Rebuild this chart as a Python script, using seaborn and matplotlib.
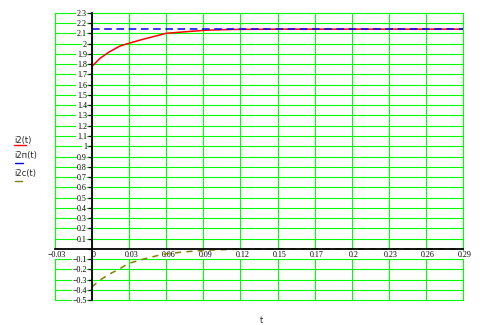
import numpy as np
import pandas as pd
import matplotlib
matplotlib.use("Agg")
import matplotlib.pyplot as plt
from matplotlib.lines import Line2D
import matplotlib.transforms as mtransforms
import seaborn as sns

# ---- data ----
t_i2 = [0.0, 0.0065, 0.014, 0.022, 0.029, 0.040, 0.051, 0.058, 0.074, 0.090, 0.110, 0.150, 0.2903]
i2 = [1.775, 1.856, 1.920, 1.975, 2.002, 2.041, 2.076, 2.099, 2.115, 2.130, 2.137, 2.140, 2.140]

t_i2p = [0.0, 0.2903]
i2p = [2.14, 2.14]

t_i2c = [0.0, 0.0065, 0.014, 0.021, 0.029, 0.040, 0.051, 0.058, 0.074, 0.090, 0.110, 0.150, 0.2903]
i2c = [-0.372, -0.303, -0.244, -0.199, -0.140, -0.101, -0.066, -0.047, -0.027, -0.012, -0.004, 0.0, 0.0]

x_tick_labels = ["\u22120.03", "0", "0.03", "0.06", "0.09", "0.12", "0.15", "0.17", "0.2", "0.23", "0.26", "0.29"]
y_tick_values = [round(-0.5 + 0.1 * k, 1) for k in range(29)]
y_tick_labels = [("" if v == 0 else (("\u2212" if v < 0 else "") + ("%g" % abs(v)))) for v in y_tick_values]

legend_labels = ["i2(t)", "i2\u043f(t)", "i2c(t)"]
x_label = "t"

RED = "#ff0000"
BLUE = "#0000ff"
OLIVE = "#808000"
GREEN = "#00ff00"

sns.set_theme(style="white")
plt.rcParams["font.family"] = ["Liberation Serif", "DejaVu Sans"]

fig = plt.figure(figsize=(4.82, 3.25), dpi=100)
ax = fig.add_axes([55 / 482, 1 - 300.3 / 325, (463 - 55) / 482, (300.3 - 12.7) / 325])

xmin, xmax = -0.0287, 0.2903
ymin, ymax = -0.5, 2.3
xt = np.linspace(xmin, xmax, len(x_tick_labels))

# green grid (drawn below everything)
for x in xt:
    ax.axvline(x, color=GREEN, lw=0.8, zorder=0.3, clip_on=False)
for y in y_tick_values:
    ax.axhline(y, color=GREEN, lw=0.8, zorder=0.3, clip_on=False)

# white strip under the x-axis labels
ax.axhspan(-0.093, 0.0, color="white", zorder=0.6, lw=0)

df1 = pd.DataFrame({"t": t_i2, "v": i2})
df2 = pd.DataFrame({"t": t_i2p, "v": i2p})
df3 = pd.DataFrame({"t": t_i2c, "v": i2c})

sns.lineplot(data=df1, x="t", y="v", ax=ax, color=RED, lw=1.1, zorder=3)
sns.lineplot(data=df2, x="t", y="v", ax=ax, color=BLUE, lw=1.1, linestyle=(0, (5.0, 3.0)), zorder=4)
sns.lineplot(data=df3, x="t", y="v", ax=ax, color=OLIVE, lw=1.1, linestyle=(0, (4.0, 3.5)), zorder=4)

ax.set_xlim(xmin, xmax)
ax.set_ylim(ymin, ymax)

ax.set_xticks(xt)
ax.set_xticklabels(x_tick_labels)
ax.set_yticks(y_tick_values)
ax.set_yticklabels(y_tick_labels)
ax.grid(False)
ax.xaxis.set_zorder(2)
ax.yaxis.set_zorder(2)

for s in ["top", "right"]:
    ax.spines[s].set_visible(False)
ax.spines["left"].set_position(("data", 0))
ax.spines["bottom"].set_position(("data", 0))
for s in ["left", "bottom"]:
    ax.spines[s].set_color("black")
    ax.spines[s].set_linewidth(1.3)
    ax.spines[s].set_zorder(5)

ax.tick_params(axis="y", direction="out", length=3, width=0.9, pad=0.5,
               color="black", labelsize=5.8, labelcolor="black", left=True)
ax.tick_params(axis="x", length=0, pad=1.5, labelsize=5.8, labelcolor="black", bottom=True)
for lab in ax.get_yticklabels() + ax.get_xticklabels():
    lab.set_bbox(dict(facecolor="white", edgecolor="none", pad=0.3))
ax.set_xlabel("")
ax.set_ylabel("")

offset = mtransforms.ScaledTranslation(2 / 100, 0, fig.dpi_scale_trans)
for lab in ax.get_xticklabels():
    lab.set_transform(lab.get_transform() + offset)

# legend-like labels on the left
leg_colors = [RED, BLUE, OLIVE]
leg_text_y = [140.5, 155.0, 173.5]
leg_line_y = [144.7, 163.2, 181.0]
leg_line_x = [(14, 26), (14.5, 22.5), (15, 22)]
for lbl, c, ty, ly, lx in zip(legend_labels, leg_colors, leg_text_y, leg_line_y, leg_line_x):
    fig.text(14 / 482, 1 - ty / 325, lbl, fontsize=6, family=["DejaVu Sans"], va="center", ha="left")
    fig.add_artist(Line2D([lx[0] / 482, lx[1] / 482], [1 - ly / 325, 1 - ly / 325],
                          color=c, lw=1.0, transform=fig.transFigure))

fig.text(261 / 482, 1 - 320.5 / 325, x_label, fontsize=6, family=["DejaVu Sans"], va="center", ha="center")

fig.savefig("out.png", dpi=100)
